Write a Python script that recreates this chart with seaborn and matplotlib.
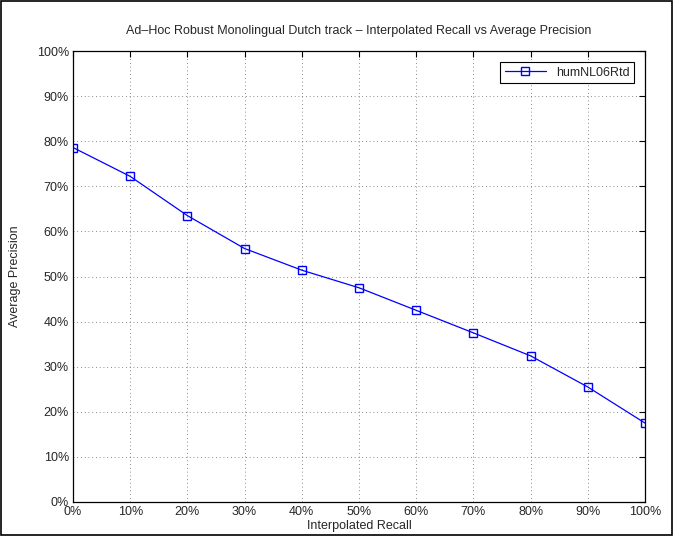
import pandas as pd
import matplotlib
matplotlib.use("Agg")
import matplotlib.pyplot as plt
import seaborn as sns
from matplotlib.ticker import PercentFormatter, MultipleLocator
from matplotlib.patches import Rectangle

# data
recall = [0, 10, 20, 30, 40, 50, 60, 70, 80, 90, 100]
precision = [78.6, 72.2, 63.5, 56.2, 51.4, 47.5, 42.5, 37.5, 32.4, 25.5, 17.5]
run_name = "humNL06Rtd"

TITLE = "Ad\u2013Hoc Robust Monolingual Dutch track \u2013 Interpolated Recall vs Average Precision"

df = pd.DataFrame({
    "recall": recall,
    "precision": precision,
    "run": [run_name] * len(recall),
})

sns.set_style("white")
plt.rcParams["font.family"] = ["Liberation Sans", "DejaVu Sans"]
plt.rcParams["font.size"] = 9

fig = plt.figure(figsize=(6.73, 5.36), dpi=100)
ax = fig.add_axes([73 / 673, 34 / 536, 572 / 673, 451 / 536])

sns.lineplot(
    data=df,
    x="recall",
    y="precision",
    hue="run",
    palette=["#0000ff"],
    marker="s",
    markersize=5.5,
    markerfacecolor="none",
    markeredgecolor="#0000ff",
    markeredgewidth=1.0,
    linewidth=0.9,
    ax=ax,
)

ax.set_xlim(0, 100)
ax.set_ylim(0, 100)
ax.xaxis.set_major_locator(MultipleLocator(10))
ax.yaxis.set_major_locator(MultipleLocator(10))
ax.xaxis.set_major_formatter(PercentFormatter(decimals=0))
ax.yaxis.set_major_formatter(PercentFormatter(decimals=0))

ax.grid(True, color="#666666", linestyle=(0, (1, 3.5)), linewidth=0.6)
ax.tick_params(direction="in", length=4, width=0.8, color="black",
               labelsize=9, top=True, right=True, pad=3)

for s in ax.spines.values():
    s.set_visible(True)
    s.set_color("black")
    s.set_linewidth(0.9)

ax.set_title(TITLE, fontsize=9, pad=12)
ax.set_xlabel("Interpolated Recall", fontsize=9, labelpad=1)
ax.set_ylabel("Average Precision", fontsize=9, labelpad=11)

leg = ax.legend(loc="upper right", fontsize=9, frameon=True, fancybox=False,
                edgecolor="black", framealpha=1, handlelength=3.3,
                borderpad=0.35, borderaxespad=0.9)
leg.get_frame().set_linewidth(0.8)

fig.patches.append(Rectangle((0.001, 0.001), 0.997, 0.997, transform=fig.transFigure,
                             fill=False, edgecolor="black", linewidth=1.2))

fig.savefig("out.png", dpi=100)
plt.close(fig)
